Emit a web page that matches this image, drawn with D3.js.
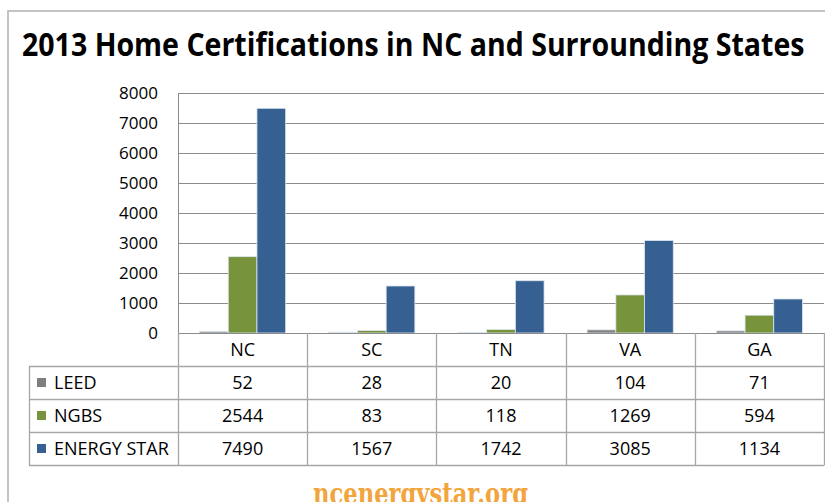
<!DOCTYPE html>
<html>
<head>
<meta charset="utf-8">
<script src="https://cdn.jsdelivr.net/npm/d3@7"></script>
<style>
  html, body { margin: 0; padding: 0; background: #fff; }
  svg { display: block; }
  text { font-family: "Open Sans", "Noto Sans", sans-serif; fill: #000; }
</style>
</head>
<body>
<svg id="chart"></svg>
<script>
'use strict';

var titleText = '2013 Home Certifications in NC and Surrounding States';
var footerText = 'ncenergystar.org';
var states = ['NC', 'SC', 'TN', 'VA', 'GA'];
var seriesNames = ['LEED', 'NGBS', 'ENERGY STAR'];
var leed = [52, 28, 20, 104, 71];
var ngbs = [2544, 83, 118, 1269, 594];
var energyStar = [7490, 1567, 1742, 3085, 1134];
var yTicks = [0, 1000, 2000, 3000, 4000, 5000, 6000, 7000, 8000];
var seriesColors = ['#7f7f7f', '#77933c', '#376092'];

var seriesValues = [leed, ngbs, energyStar];

var width = 825, height = 502;
var plot = {left: 178, right: 824, top: 93, bottom: 333};
var rowH = 33;
var tableLeft = 29;

var svg = d3.select('#chart')
  .attr('width', width)
  .attr('height', height);

// outer frame (top and left edges visible)
svg.append('path')
  .attr('d', 'M8,' + height + 'V11H' + width)
  .attr('fill', 'none')
  .attr('stroke', '#b0b0b0')
  .attr('stroke-width', 1.5);

// title, squeezed horizontally to the width it has in the source
var title = svg.append('text')
  .attr('x', 0)
  .attr('y', 0)
  .style('font-size', '32px')
  .style('font-weight', 'bold')
  .text(titleText);
var natural = title.node().getComputedTextLength();
title.attr('transform', 'translate(22,56) scale(' + (783 / natural) + ',1)');

var x = d3.scaleBand()
  .domain(states)
  .range([plot.left, plot.right])
  .paddingInner(0)
  .paddingOuter(0);

var xInner = d3.scaleBand()
  .domain(seriesNames)
  .range([0, x.bandwidth()])
  .paddingInner(0)
  .paddingOuter(0.75);

var y = d3.scaleLinear()
  .domain([0, 8000])
  .range([plot.bottom, plot.top]);

// gridlines
svg.append('g')
  .selectAll('line')
  .data(yTicks.filter(function (d) { return d > 0; }))
  .enter()
  .append('line')
  .attr('x1', plot.left)
  .attr('x2', plot.right)
  .attr('y1', function (d) { return Math.round(y(d)) + 0.5; })
  .attr('y2', function (d) { return Math.round(y(d)) + 0.5; })
  .attr('stroke', '#8c8c8c')
  .attr('stroke-width', 1);

// y axis
var yAxis = d3.axisLeft(y)
  .tickValues(yTicks)
  .tickFormat(d3.format('d'))
  .tickSize(0)
  .tickPadding(20);

var yAxisG = svg.append('g')
  .attr('transform', 'translate(' + plot.left + ',0)')
  .call(yAxis);
yAxisG.select('.domain').remove();
yAxisG.selectAll('text')
  .style('font-family', '"Open Sans", sans-serif')
  .style('font-size', '17px')
  .attr('fill', '#000');

svg.append('line')
  .attr('x1', plot.left + 0.5)
  .attr('x2', plot.left + 0.5)
  .attr('y1', plot.top)
  .attr('y2', plot.bottom)
  .attr('stroke', '#8c8c8c');

// bars
var barData = [];
states.forEach(function (st, i) {
  seriesNames.forEach(function (s, j) {
    barData.push({state: st, series: s, value: seriesValues[j][i], color: seriesColors[j]});
  });
});

svg.append('g')
  .selectAll('rect')
  .data(barData)
  .enter()
  .append('rect')
  .attr('x', function (d) { return x(d.state) + xInner(d.series); })
  .attr('width', xInner.bandwidth())
  .attr('y', function (d) { return y(d.value); })
  .attr('height', function (d) { return plot.bottom - y(d.value); })
  .attr('fill', function (d) { return d.color; })
  .attr('stroke', '#dde6f0')
  .attr('stroke-width', 0.8);

// data table
var table = svg.append('g');
var lineColor = '#a6a6a6';
var tableBottom = plot.bottom + rowH * 4;

// horizontal lines
table.append('line')
  .attr('x1', plot.left).attr('x2', plot.right)
  .attr('y1', plot.bottom + 0.5).attr('y2', plot.bottom + 0.5)
  .attr('stroke', '#8c8c8c');
[1, 2, 3, 4].forEach(function (r) {
  table.append('line')
    .attr('x1', tableLeft).attr('x2', plot.right)
    .attr('y1', plot.bottom + rowH * r + 0.5).attr('y2', plot.bottom + rowH * r + 0.5)
    .attr('stroke', lineColor)
    .attr('stroke-width', 1.3);
});

// vertical lines
table.append('line')
  .attr('x1', tableLeft + 0.5).attr('x2', tableLeft + 0.5)
  .attr('y1', plot.bottom + rowH).attr('y2', tableBottom + 0.5)
  .attr('stroke', lineColor)
  .attr('stroke-width', 1.3);
states.concat(['end']).forEach(function (st, i) {
  var xx = i < states.length ? x(st) : plot.right;
  table.append('line')
    .attr('x1', Math.round(xx) + 0.5).attr('x2', Math.round(xx) + 0.5)
    .attr('y1', plot.bottom).attr('y2', tableBottom + 0.5)
    .attr('stroke', lineColor)
    .attr('stroke-width', 1.3);
});

// header row
table.selectAll('text.state')
  .data(states)
  .enter()
  .append('text')
  .attr('class', 'state')
  .attr('x', function (d) { return x(d) + x.bandwidth() / 2; })
  .attr('y', plot.bottom + rowH / 2)
  .attr('dy', '0.36em')
  .attr('text-anchor', 'middle')
  .style('font-size', '18px')
  .text(function (d) { return d; });

// series rows
seriesNames.forEach(function (s, j) {
  var rowMid = plot.bottom + rowH * (j + 1) + rowH / 2;
  table.append('rect')
    .attr('x', 37)
    .attr('y', rowMid - 4.5)
    .attr('width', 9)
    .attr('height', 9)
    .attr('fill', seriesColors[j]);
  table.append('text')
    .attr('x', 54)
    .attr('y', rowMid)
    .attr('dy', '0.36em')
    .style('font-size', '18px')
    .text(s);
  table.selectAll('text.v' + j)
    .data(seriesValues[j])
    .enter()
    .append('text')
    .attr('class', 'v' + j)
    .attr('x', function (d, i) { return x(states[i]) + x.bandwidth() / 2; })
    .attr('y', rowMid)
    .attr('dy', '0.36em')
    .attr('text-anchor', 'middle')
    .style('font-size', '18px')
    .text(function (d) { return d; });
});

// footer (cut by the bottom edge, as in the source image)
svg.append('text')
  .attr('x', 313)
  .attr('y', 504)
  .attr('textLength', 215)
  .attr('lengthAdjust', 'spacingAndGlyphs')
  .style('font-family', '"DejaVu Serif", "Liberation Serif", serif')
  .style('font-size', '30px')
  .style('font-weight', 'bold')
  .style('fill', '#f2a53c')
  .text(footerText);
</script>
</body>
</html>
